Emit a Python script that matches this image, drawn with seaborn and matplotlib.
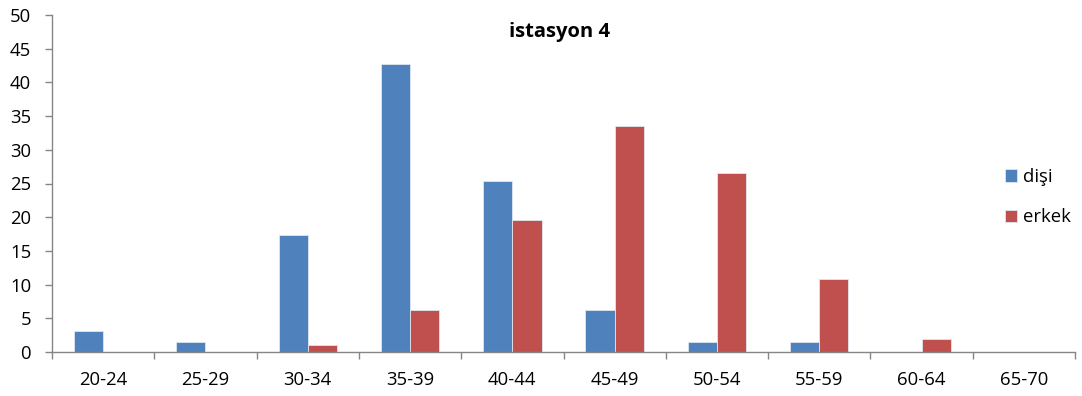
import matplotlib
matplotlib.use("Agg")
import matplotlib.pyplot as plt
import seaborn as sns
import pandas as pd
from matplotlib.ticker import FixedLocator, MultipleLocator

# Age groups and counts per sex
age_groups = ["20-24", "25-29", "30-34", "35-39", "40-44",
              "45-49", "50-54", "55-59", "60-64", "65-70"]
disi = [3.1, 1.5, 17.4, 42.8, 25.4, 6.3, 1.5, 1.5, 0, 0]
erkek = [0, 0, 1.0, 6.3, 19.6, 33.5, 26.5, 10.8, 2.0, 0]
series_names = ["dişi", "erkek"]
title = "istasyon 4"

df = pd.DataFrame({
    "yas": age_groups * 2,
    "deger": disi + erkek,
    "cinsiyet": [series_names[0]] * len(age_groups) + [series_names[1]] * len(age_groups),
})

sns.set_theme(style="white")
plt.rcParams["font.family"] = ["Open Sans", "DejaVu Sans"]
plt.rcParams["text.color"] = "black"

fig = plt.figure(figsize=(10.82, 3.96), dpi=100)
ax = fig.add_axes([52 / 1082, 1 - 352 / 396, (1075 - 52) / 1082, (352 - 15) / 396])

palette = {"dişi": "#4F81BD", "erkek": "#C0504D"}
sns.barplot(data=df, x="yas", y="deger", hue="cinsiyet", order=age_groups,
            hue_order=series_names, palette=palette, width=0.57, gap=0,
            saturation=1, ax=ax, edgecolor="#dfe6f0", linewidth=0.6)

axis_color = "#868686"
label_size = 13.3
ax.set_xlim(-0.5, len(age_groups) - 0.5)
ax.set_ylim(0, 50)
ax.yaxis.set_major_locator(MultipleLocator(5))
ax.set_xlabel("")
ax.set_ylabel("")

for side in ["top", "right"]:
    ax.spines[side].set_visible(False)
for side in ["left", "bottom"]:
    ax.spines[side].set_color(axis_color)
    ax.spines[side].set_linewidth(1.0)

# Category boundary ticks on the x axis, labels centred under groups
ax.xaxis.set_minor_locator(FixedLocator([i - 0.5 for i in range(len(age_groups) + 1)]))
ax.tick_params(axis="x", which="major", length=0, pad=14, labelsize=label_size, colors="black")
ax.tick_params(axis="x", which="minor", length=5, width=1, color=axis_color, direction="out", bottom=True)
ax.tick_params(axis="y", which="major", length=5, width=1, color=axis_color, direction="out",
               left=True, pad=10, labelsize=label_size, labelcolor="black")

fig.text(560 / 1082, 1 - 32 / 396, title, fontsize=14.5, fontweight="bold",
         ha="center", va="center", color="black")

handles, labels = ax.get_legend_handles_labels()
ax.legend(handles, labels, loc="upper left", bbox_to_anchor=(1005 / 1082, 1 - 168 / 396),
          bbox_transform=fig.transFigure, frameon=False, fontsize=label_size,
          handlelength=0.65, handleheight=0.65, handletextpad=0.3,
          labelspacing=1.2, borderaxespad=0, borderpad=0)

fig.savefig("out.png", dpi=100)
